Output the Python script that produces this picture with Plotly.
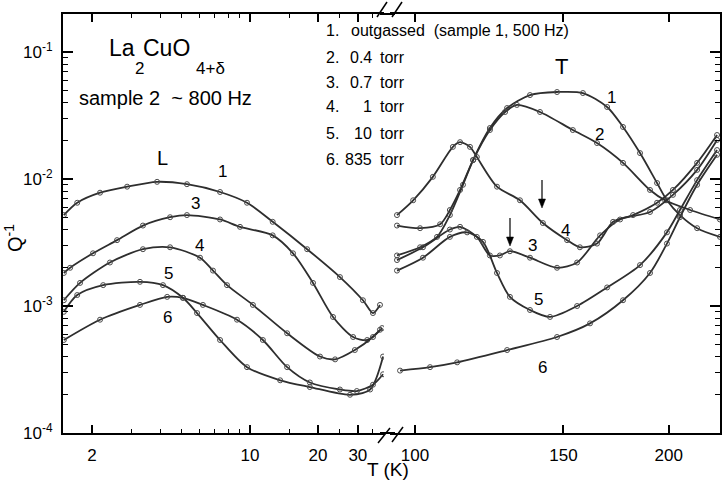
import math
import plotly.graph_objects as go

# ---------------- data (T in K, Q^-1) ----------------
# L region (low temperature, left panel)
L1_T = [1.50, 1.72, 2.17, 2.86, 3.88, 5.26, 7.37, 9.70, 12.6, 17.9, 25.0, 31.6, 35.0, 37.6]
L1_Q = [0.0052, 0.0065, 0.0078, 0.0087, 0.0095, 0.0091, 0.0079, 0.0065, 0.0046, 0.0028, 0.00169, 0.00111, 0.00088, 0.00102]

L3_T = [1.50, 1.60, 2.02, 2.58, 3.36, 4.43, 5.26, 7.37, 9.03, 12.6, 15.5, 19.0, 23.3, 28.6, 33.0, 37.6]
L3_Q = [0.00182, 0.0020, 0.0026, 0.0033, 0.0043, 0.0050, 0.0052, 0.0048, 0.0042, 0.0036, 0.0026, 0.00152, 0.00082, 0.00057, 0.00054, 0.00065]

L4_T = [1.50, 1.77, 2.40, 3.36, 4.43, 6.01, 6.86, 7.91, 10.3, 14.6, 20.4, 23.8, 29.1, 35.0, 38.4]
L4_Q = [0.00111, 0.00152, 0.0022, 0.0028, 0.0029, 0.0024, 0.0019, 0.00146, 0.00102, 0.00061, 0.00040, 0.00038, 0.00045, 0.00057, 0.00067]

L5_T = [1.50, 1.72, 2.24, 3.26, 4.12, 5.05, 5.83, 7.37, 9.70, 13.6, 18.4, 27.7, 34.0, 38.8]
L5_Q = [0.00090, 0.00122, 0.00146, 0.00155, 0.00146, 0.00116, 0.00088, 0.00054, 0.00033, 0.00026, 0.00023, 0.00020, 0.00022, 0.00040]

L6_T = [1.50, 2.17, 3.26, 4.30, 5.05, 6.19, 8.76, 11.4, 14.6, 18.4, 25.0, 29.7, 35.0, 38.8]
L6_Q = [0.00054, 0.00078, 0.00102, 0.00118, 0.00116, 0.00102, 0.00078, 0.00054, 0.00033, 0.00025, 0.00022, 0.000214, 0.00024, 0.00029]

# T region (high temperature, right panel)
T1_T = [95.2, 101.4, 106.2, 110.0, 114.0, 117.2, 122.7, 128.6, 136.9, 147.4, 158.2, 169.0, 176.5, 184.9, 193.7, 199.0, 206.2, 216.1, 230.0]
T1_Q = [0.0025, 0.0029, 0.0035, 0.0052, 0.0090, 0.0141, 0.0252, 0.0362, 0.0458, 0.0484, 0.0475, 0.0369, 0.0257, 0.0160, 0.0093, 0.0068, 0.0052, 0.0041, 0.0035]

T2_T = [95.2, 101.4, 107.1, 110.0, 113.1, 117.2, 122.7, 127.9, 132.1, 140.7, 153.9, 164.4, 176.5, 190.0, 198.0, 212.0, 230.0]
T2_Q = [0.0043, 0.0041, 0.0044, 0.0057, 0.0082, 0.0141, 0.0243, 0.0337, 0.0383, 0.0337, 0.0243, 0.0192, 0.0134, 0.0082, 0.0068, 0.0057, 0.0048]

T3_T = [95.2, 102.2, 110.0, 113.1, 118.4, 122.7, 126.1, 129.6, 136.9, 147.4, 155.7, 165.8, 175.1, 190.0, 202.3, 216.1, 228.2]
T3_Q = [0.0023, 0.0029, 0.0040, 0.0042, 0.0035, 0.0025, 0.0025, 0.0027, 0.0024, 0.0020, 0.0022, 0.0036, 0.0048, 0.0055, 0.0075, 0.0118, 0.0203]

T4_T = [95.2, 99.5, 105.0, 110.9, 113.1, 116.2, 118.4, 125.1, 133.2, 141.8, 151.5, 156.9, 164.4, 171.8, 181.4, 193.7, 202.3, 216.1, 228.2]
T4_Q = [0.0052, 0.0068, 0.0104, 0.0179, 0.0195, 0.0179, 0.0149, 0.0087, 0.0068, 0.0045, 0.0033, 0.0029, 0.0031, 0.0046, 0.0052, 0.0065, 0.0082, 0.0134, 0.0222]

T5_T = [95.2, 102.2, 110.0, 115.3, 120.4, 125.1, 129.6, 136.9, 144.6, 155.7, 169.0, 184.9, 199.0, 206.2, 216.1, 228.2]
T5_Q = [0.0019, 0.0024, 0.0035, 0.0038, 0.0032, 0.00182, 0.00118, 0.00093, 0.00082, 0.00100, 0.00140, 0.0021, 0.0038, 0.0057, 0.0098, 0.0169]

T6_T = [96.0, 104.2, 112.2, 128.6, 147.4, 161.3, 176.5, 190.0, 199.0, 206.2, 216.1, 228.2]
T6_Q = [0.00031, 0.00033, 0.00036, 0.00045, 0.00057, 0.00073, 0.00111, 0.00182, 0.0031, 0.0050, 0.0090, 0.0155]

LEFT_TICKS = [2, 10, 20, 30]
RIGHT_TICKS = [100, 150, 200]
Y_TICKS = [1e-4, 1e-3, 1e-2, 1e-1]
Y_TICKTEXT = ["10<sup>-4</sup>", "10<sup>-3</sup>", "10<sup>-2</sup>", "10<sup>-1</sup>"]

LEGEND_NUM = ["1.", "2.", "3.", "4.", "5.", "6."]
LEGEND_VAL = ["", "0.4", "0.7", "1", "10", "835"]
LEGEND_TXT = ["outgassed  (sample 1, 500 Hz)", "torr", "torr", "torr", "torr", "torr"]

# ---------------- figure ----------------
FONT = "Liberation Sans, Arial, sans-serif"
W, H = 727, 480
ML, MR, MT, MB = 63, 7, 14, 47
PW, PH = W - ML - MR, H - MT - MB


def px(x):
    return (x - ML) / PW


def py(y):
    return (H - MB - y) / PH


line_style = dict(shape="spline", smoothing=0.8, color="#2e2e2e", width=1.8)
marker_style = dict(symbol="circle-open", size=5, color="#4a4a4a", line=dict(width=1))

fig = go.Figure()
for T, Q in [(L1_T, L1_Q), (L3_T, L3_Q), (L4_T, L4_Q), (L5_T, L5_Q), (L6_T, L6_Q)]:
    fig.add_trace(go.Scatter(x=T, y=Q, mode="lines+markers", line=line_style,
                             marker=marker_style, xaxis="x", yaxis="y",
                             showlegend=False, hoverinfo="skip"))
for T, Q in [(T1_T, T1_Q), (T2_T, T2_Q), (T3_T, T3_Q), (T4_T, T4_Q), (T5_T, T5_Q), (T6_T, T6_Q)]:
    fig.add_trace(go.Scatter(x=T, y=Q, mode="lines+markers", line=line_style,
                             marker=marker_style, xaxis="x2", yaxis="y2",
                             showlegend=False, hoverinfo="skip"))

left_split = px(384)
right_split = px(390)

minor_y = [m * 10 ** e for e in range(-4, 0) for m in range(2, 10)]
tickfont = dict(family=FONT, size=17, color="black")

common_x = dict(type="log", showgrid=False, zeroline=False, ticks="inside",
                ticklen=8, tickwidth=1.5, tickcolor="black", showline=True,
                linewidth=2, linecolor="black", mirror="ticks", tickfont=tickfont,
                ticklabelstandoff=6)
common_y = dict(type="log", range=[-4, -4 + PH / 127.0], showgrid=False, zeroline=False,
                ticks="inside", ticklen=10, tickwidth=1.5, tickcolor="black",
                showline=True, linewidth=2, linecolor="black", tickfont=tickfont,
                tickvals=Y_TICKS, ticktext=Y_TICKTEXT, ticklabelstandoff=5,
                minor=dict(tickvals=minor_y, ticks="inside", ticklen=5,
                           tickwidth=1, tickcolor="black"))

fig.update_layout(
    width=W, height=H,
    margin=dict(l=ML, r=MR, t=MT, b=MB),
    paper_bgcolor="white", plot_bgcolor="white",
    showlegend=False,
    font=dict(family=FONT, color="black"),
    xaxis=dict(common_x, domain=[0, left_split],
               range=[1 + (ML - 250) / 226.0, 1 + (384 - 250) / 226.0],
               tickvals=LEFT_TICKS, ticktext=[str(v) for v in LEFT_TICKS],
               minor=dict(tickvals=[3, 4, 5, 6, 7, 8, 9, 15, 25, 35], ticks="inside",
                          ticklen=4, tickwidth=1, tickcolor="black"),
               anchor="y"),
    xaxis2=dict(common_x, domain=[right_split, 1],
                range=[2 + (390 - 415) / 843.0, 2 + (ML + PW - 415) / 843.0],
                tickvals=RIGHT_TICKS, ticktext=[str(v) for v in RIGHT_TICKS],
                anchor="y2"),
    yaxis=dict(common_y, anchor="x", side="left"),
    yaxis2=dict(common_y, anchor="x2", side="right", showticklabels=False),
)

# frame continuity across the axis break, break marks and arrows
shapes = []
for yy in (0, 1):
    shapes.append(dict(type="line", xref="paper", yref="paper", x0=px(380), x1=px(395),
                       y0=yy, y1=yy, line=dict(color="black", width=2)))
for (x0, y0, x1, y1) in [(377, 17, 387, 2), (392, 17, 402, 2),
                         (378, 443, 390, 428), (392, 442, 403, 427)]:
    shapes.append(dict(type="line", xref="paper", yref="paper", x0=px(x0), y0=py(y0),
                       x1=px(x1), y1=py(y1), line=dict(color="black", width=1.5)))
for (x, y) in [(542, 208), (510, 246)]:
    shapes.append(dict(type="line", xref="paper", yref="paper", x0=px(x), x1=px(x),
                       y0=py(y - 28), y1=py(y - 7), line=dict(color="black", width=1.2)))
    path = "M {},{} L {},{} L {},{} Z".format(px(x - 3.5), py(y - 9), px(x + 3.5), py(y - 9),
                                              px(x), py(y))
    shapes.append(dict(type="path", xref="paper", yref="paper", path=path,
                       fillcolor="black", line=dict(color="black", width=0.5)))
fig.update_layout(shapes=shapes)

ann = []


def text(t, x, y, size, xanchor="center", angle=0):
    ann.append(dict(text=t, x=px(x), y=py(y), xref="paper", yref="paper",
                    showarrow=False, xanchor=xanchor, yanchor="middle",
                    textangle=angle, font=dict(family=FONT, size=size, color="black")))


# compound formula
text("La", 107, 48, 23, "left")
text("2", 133, 69, 17, "left")
text("CuO", 141, 48, 23, "left")
text("4+δ", 194, 69, 17, "left")
text("sample 2  ~ 800 Hz", 77, 98, 20, "left")
text("L", 162, 158, 20)
text("T", 561, 67, 22)

# list of conditions
legend_y = [31, 57, 82, 107, 133, 159]
for i in range(6):
    text(LEGEND_NUM[i], 324, legend_y[i], 16, "left")
    if LEGEND_VAL[i]:
        text(LEGEND_VAL[i], 374, legend_y[i], 16, "right")
        text(LEGEND_TXT[i], 378, legend_y[i], 16, "left")
    else:
        text(LEGEND_TXT[i], 349, legend_y[i], 16, "left")

# curve labels
for t, x, y in [("1", 222, 171), ("3", 195, 203), ("4", 199, 245), ("5", 168, 273), ("6", 167, 317),
                ("1", 611, 97), ("2", 599, 134), ("4", 565, 230), ("3", 532, 246),
                ("5", 538, 299), ("6", 542, 367)]:
    text(t, x, y, 17)

# axis titles
text("T (K)", 388, 469, 19)
text("Q<sup>-1</sup>", 13, 238, 20, angle=-90)

fig.update_layout(annotations=ann)

fig.write_html("out.html")
